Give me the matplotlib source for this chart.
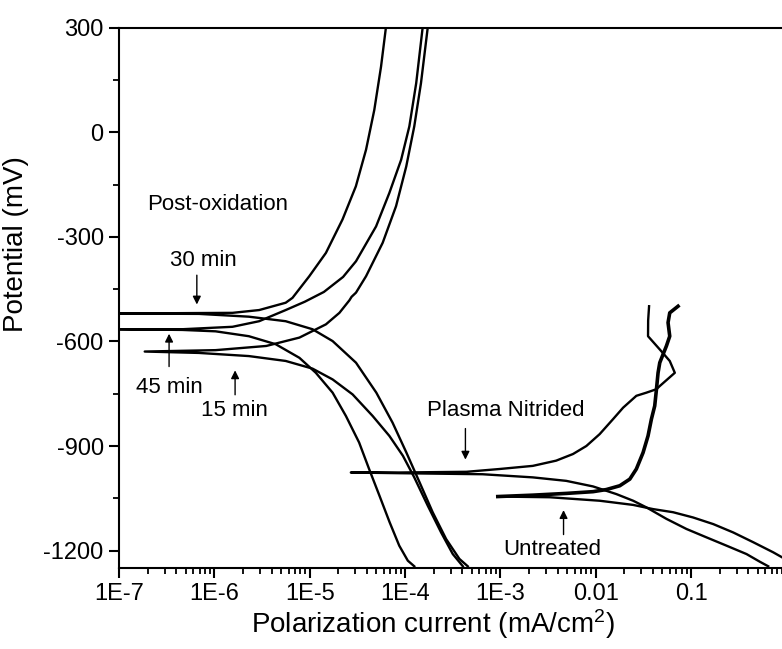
import matplotlib
matplotlib.use('Agg')
import matplotlib.pyplot as plt
from matplotlib.ticker import LogLocator, FixedLocator, FixedFormatter, MultipleLocator

plt.rcParams['font.family'] = ['Liberation Sans', 'DejaVu Sans']
plt.rcParams['axes.unicode_minus'] = False
plt.rcParams['mathtext.default'] = 'regular'

# current (mA/cm2) and potential (mV), each scan from -1250 mV upward
i_30 = [4.55e-4, 3.72e-4, 2.70e-4, 1.95e-4, 1.42e-4, 1.03e-4, 7.4e-5, 5.0e-5, 3.06e-5, 1.74e-5,
        1.07e-5, 5.6e-6, 2.3e-6, 6.9e-7, 8.9e-8,
        1.55e-6, 2.95e-6, 5.6e-6, 6.6e-6, 9.9e-6, 1.48e-5, 2.21e-5, 3.05e-5, 3.9e-5, 4.76e-5, 5.6e-5, 6.3e-5]
e_30 = [-1245, -1224, -1167, -1090, -1004, -918, -833, -747, -661, -599,
        -565, -542, -529, -521, -520,
        -518, -510, -489, -475, -413, -346, -250, -155, -50, 64, 188, 300]

i_45 = [1.25e-4, 1.07e-4, 8.7e-5, 6.9e-5, 5.4e-5, 4.2e-5, 3.3e-5, 2.4e-5, 1.74e-5, 1.16e-5,
        7.8e-6, 4.4e-6, 2.3e-6, 1.03e-6, 4.6e-7, 8.9e-8,
        4.6e-7, 1.55e-6, 2.95e-6, 5.6e-6, 8.9e-6, 1.41e-5, 2.24e-5, 3.06e-5, 4.97e-5, 6.85e-5, 9.1e-5,
        1.11e-4, 1.31e-4, 1.53e-4]
e_45 = [-1245, -1229, -1186, -1119, -1043, -966, -890, -814, -747, -690,
        -647, -608, -585, -571, -567, -565,
        -565, -558, -542, -510, -486, -458, -415, -370, -270, -174, -79,
        17, 141, 300]

i_15 = [4.04e-4, 3.17e-4, 2.39e-4, 1.73e-4, 1.25e-4, 9.5e-5, 6.85e-5, 4.58e-5, 2.82e-5, 1.74e-5,
        1.07e-5, 5.6e-6, 2.3e-6, 6.9e-7, 1.86e-7,
        1.03e-6, 3.5e-6, 7.8e-6, 1.48e-5, 2.05e-5, 2.61e-5, 2.75e-5, 3.06e-5, 3.9e-5, 5.83e-5,
        8.05e-5, 1.03e-4, 1.25e-4, 1.47e-4, 1.73e-4]
e_15 = [-1245, -1210, -1148, -1071, -990, -928, -871, -814, -752, -709,
        -678, -656, -642, -633, -629,
        -625, -613, -589, -551, -518, -482, -472, -460, -413, -317,
        -212, -98, 17, 141, 300]

i_pn = [0.645, 0.527, 0.382, 0.236, 0.145, 0.0895, 0.0552, 0.0340, 0.0247, 0.0165,
        0.00938, 0.00491, 0.00219, 6.5e-4, 8.7e-5, 2.7e-5,
        8.7e-5, 4.4e-4, 9.8e-4, 2.19e-3, 3.85e-3, 5.78e-3, 7.98e-3, 0.0110, 0.0152, 0.0194,
        0.0267, 0.0340, 0.0434, 0.0470, 0.0676, 0.0598, 0.0470, 0.0354, 0.0355, 0.0363]
e_pn = [-1245, -1232, -1210, -1186, -1162, -1138, -1109, -1076, -1057, -1038,
        -1016, -1000, -990, -981, -978, -976,
        -976, -974, -966, -957, -942, -923, -900, -866, -823, -790,
        -756, -747, -737, -728, -690, -656, -623, -585, -540, -499]

i_un_c = [0.897, 0.728, 0.449, 0.277, 0.171, 0.105, 0.0649, 0.040, 0.0247, 0.0110, 0.00329, 9.4e-4]
e_un_c = [-1219, -1205, -1176, -1148, -1124, -1105, -1090, -1081, -1069, -1057, -1047, -1045]
i_un_a = [9.4e-4, 0.00219, 0.00491, 0.00938, 0.0129, 0.0179, 0.0228, 0.0267, 0.0314, 0.0354,
          0.0384, 0.0416, 0.0434, 0.0451, 0.0470, 0.0509, 0.0552, 0.0598, 0.0574, 0.0598, 0.0731]
e_un_a = [-1045, -1041, -1036, -1031, -1025, -1014, -995, -966, -919, -871,
          -823, -785, -737, -690, -661, -637, -613, -585, -546, -518, -499]

x_ticks = [1e-7, 1e-6, 1e-5, 1e-4, 1e-3, 1e-2, 1e-1]
x_labels = ['1E-7', '1E-6', '1E-5', '1E-4', '1E-3', '0.01', '0.1']
y_ticks = [300, 0, -300, -600, -900, -1200]

fig = plt.figure(figsize=(7.82, 6.49), dpi=100)
ax = fig.add_axes([0.1522, 0.1248, 0.8478, 0.8325])

lw = 1.7
ax.plot(i_30, e_30, c='black', lw=lw)
ax.plot(i_45, e_45, c='black', lw=lw)
ax.plot(i_15, e_15, c='black', lw=lw)
ax.plot(i_pn, e_pn, c='black', lw=lw)
ax.plot(i_un_c, e_un_c, c='black', lw=lw)
ax.plot(i_un_a, e_un_a, c='black', lw=2.6)

ax.set_xscale('log')
ax.set_xlim(1e-7, 0.9)
ax.set_ylim(-1250, 300)

ax.xaxis.set_major_locator(FixedLocator(x_ticks))
ax.xaxis.set_major_formatter(FixedFormatter(x_labels))
ax.xaxis.set_minor_locator(LogLocator(base=10, subs=range(2, 10), numticks=20))
ax.set_yticks(y_ticks)
ax.yaxis.set_minor_locator(MultipleLocator(150))

for s in ['left', 'bottom', 'top']:
    ax.spines[s].set_linewidth(1.5)
ax.spines['right'].set_visible(False)
ax.tick_params(which='major', direction='out', length=7, width=1.5, labelsize=17, pad=4)
ax.tick_params(which='minor', direction='out', length=4, width=1.3)
ax.tick_params(top=False, right=False, which='both')

ax.set_xlabel('Polarization current (mA/cm$^2$)', fontsize=20)
ax.set_ylabel('Potential (mV)', fontsize=20)
ax.xaxis.set_label_coords(0.474, -0.072)
ax.yaxis.set_label_coords(-0.136, 0.60)

fs = 16
ax.text(1.07e-6, -208, 'Post-oxidation', fontsize=fs, ha='center', va='center')
arrow = dict(arrowstyle='-|>', color='black', lw=1, mutation_scale=12)
ax.annotate('', xy=(6.55e-7, -502), xytext=(6.55e-7, -402), arrowprops=arrow)
ax.text(7.6e-7, -368, '30 min', fontsize=fs, ha='center', va='center')
ax.annotate('', xy=(3.35e-7, -570), xytext=(3.35e-7, -680), arrowprops=arrow)
ax.text(3.35e-7, -731, '45 min', fontsize=fs, ha='center', va='center')
ax.annotate('', xy=(1.65e-6, -675), xytext=(1.65e-6, -761), arrowprops=arrow)
ax.text(1.64e-6, -799, '15 min', fontsize=fs, ha='center', va='center')
ax.annotate('', xy=(4.3e-4, -947), xytext=(4.3e-4, -842), arrowprops=arrow)
ax.text(1.15e-3, -799, 'Plasma Nitrided', fontsize=fs, ha='center', va='center')
ax.annotate('', xy=(4.6e-3, -1076), xytext=(4.6e-3, -1162), arrowprops=arrow)
ax.text(3.5e-3, -1198, 'Untreated', fontsize=fs, ha='center', va='center')

fig.savefig('out.png', dpi=100)
